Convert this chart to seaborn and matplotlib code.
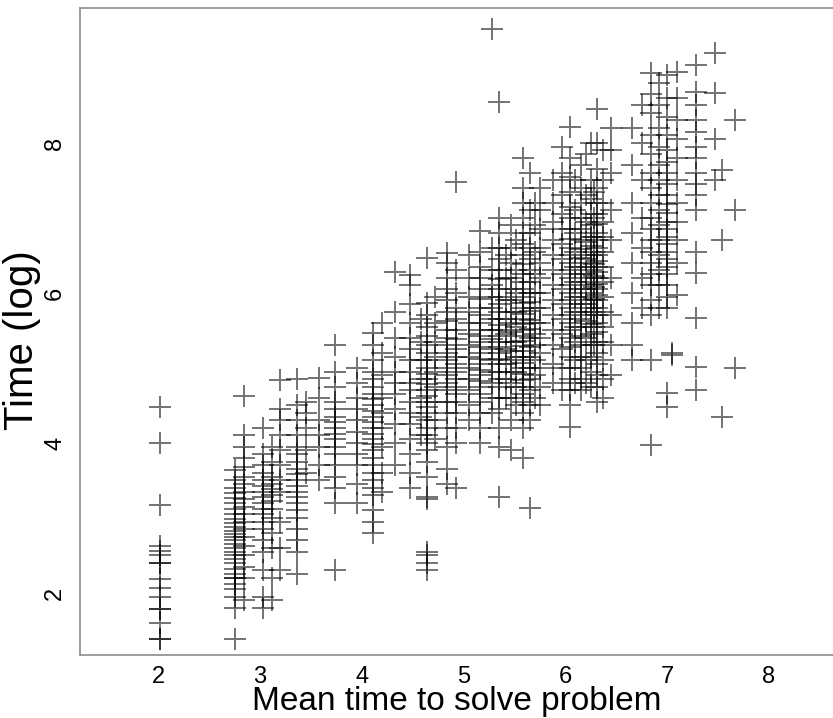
import matplotlib
matplotlib.use("Agg")
import matplotlib.pyplot as plt
import seaborn as sns
import pandas as pd

# ---- data: mean time per problem (x) and individual log times (y) ----
easy_means = [2.02, 2.76, 2.84, 3.03, 3.12, 3.20, 3.37, 3.45, 3.58, 3.74, 3.95]
easy_times = [
    [4.48, 4.00, 3.17, 2.63, 2.56, 2.51, 2.40, 2.40, 2.19, 2.07, 1.95, 1.79, 1.79, 1.60, 1.39, 1.39],
    [3.64, 3.50, 3.40, 3.33, 3.27, 3.20, 3.12, 3.05, 2.98, 2.93, 2.88, 2.83, 2.78, 2.74, 2.70, 2.65,
     2.60, 2.55, 2.50, 2.45, 2.40, 2.32, 2.25, 2.20, 2.20, 2.12, 2.05, 1.95, 1.80, 1.38],
    [4.62, 4.10, 3.95, 3.80, 3.68, 3.55, 3.45, 3.35, 3.25, 3.15, 3.05, 2.95, 2.85, 2.75, 2.62, 2.50,
     2.35, 2.20, 1.90],
    [4.20, 3.85, 3.70, 3.60, 3.50, 3.42, 3.35, 3.28, 3.20, 3.12, 3.05, 2.95, 2.85, 2.70, 2.55, 2.30,
     1.95, 1.80],
    [3.95, 3.75, 3.55, 3.45, 3.38, 3.30, 3.22, 3.12, 3.00, 2.80, 2.60, 2.20, 1.90],
    [4.84, 4.45, 4.30, 4.10, 3.90, 3.70, 3.50, 3.35, 2.95, 2.60, 2.30],
    [4.85, 4.50, 4.30, 4.10, 3.95, 3.85, 3.75, 3.65, 3.58, 3.50, 3.42, 3.35, 3.28, 3.20, 3.10, 3.00,
     2.85, 2.70, 2.55, 2.25],
    [4.55, 4.40, 4.20, 3.90, 3.60],
    [4.87, 4.60, 4.31, 4.10, 3.95, 3.70, 3.50],
    [5.30, 4.95, 4.75, 4.55, 4.45, 4.35, 4.28, 4.20, 4.12, 4.05, 3.95, 3.85, 3.70, 3.55, 3.40, 3.20, 2.30],
    [5.00, 4.80, 4.60, 4.45, 4.30, 4.15, 4.00, 3.85, 3.70, 3.45, 3.20],
]

medium_means = [4.11, 4.20, 4.33, 4.48, 4.58, 4.64, 4.72, 4.84, 4.93, 5.05, 5.16, 5.28, 5.35,
                5.42, 5.47, 5.52]
medium_times = [
    [5.47, 5.30, 5.10, 4.95, 4.85, 4.75, 4.65, 4.58, 4.50, 4.42, 4.35, 4.28, 4.20, 4.12, 4.05, 3.98,
     3.90, 3.80, 3.70, 3.60, 3.50, 3.40, 3.30, 3.10, 2.95, 2.80],
    [5.60, 5.20, 4.90, 4.60, 4.40, 4.20, 3.95, 3.60, 3.35],
    [6.28, 5.75, 5.40, 5.15, 4.95, 4.80, 4.65, 4.45, 4.25, 4.00, 3.70],
    [6.24, 6.10, 5.85, 5.60, 5.40, 5.25, 5.10, 4.95, 4.80, 4.70, 4.55, 4.40, 4.25, 4.05, 3.85, 3.60, 3.40],
    [5.65, 5.35, 5.10, 4.85, 4.60, 4.35, 4.10],
    [6.47, 5.87, 5.70, 5.55, 5.42, 5.30, 5.20, 5.10, 5.00, 4.92, 4.85, 4.78, 4.70, 4.62, 4.55, 4.48,
     4.40, 4.30, 4.20, 4.10, 4.00, 3.90, 3.75, 3.55, 3.28, 3.25, 2.55, 2.50, 2.40, 2.30],
    [5.95, 5.60, 5.35, 5.15, 4.95, 4.75, 4.55, 4.30, 4.05],
    [6.53, 6.40, 6.20, 6.05, 5.90, 5.75, 5.62, 5.50, 5.40, 5.30, 5.20, 5.10, 5.00, 4.90, 4.80, 4.70,
     4.55, 4.40, 4.20, 3.95, 3.65, 3.45],
    [7.48, 6.30, 6.00, 5.80, 5.65, 5.50, 5.38, 5.25, 5.15, 5.05, 4.95, 4.85, 4.75, 4.65, 4.55, 4.40,
     4.20, 4.00, 3.40],
    [6.50, 6.20, 5.95, 5.75, 5.60, 5.45, 5.30, 5.15, 5.00, 4.85, 4.70, 4.50, 4.30],
    [6.83, 6.55, 6.35, 6.20, 6.05, 5.92, 5.80, 5.70, 5.60, 5.50, 5.42, 5.35, 5.28, 5.20, 5.12, 5.05,
     4.97, 4.90, 4.82, 4.75, 4.65, 4.55, 4.40, 4.20, 4.00],
    [9.52, 6.60, 6.30, 6.10, 5.95, 5.80, 5.65, 5.50, 5.38, 5.25, 5.10, 4.95, 4.80, 4.60, 4.40],
    [8.55, 7.00, 6.80, 6.60, 6.45, 6.30, 6.18, 6.05, 5.95, 5.85, 5.75, 5.65, 5.57, 5.50, 5.42, 5.35,
     5.28, 5.20, 5.12, 5.05, 4.95, 4.85, 4.75, 4.60, 4.45, 4.20, 3.95, 3.28],
    [6.50, 6.20, 5.90, 5.65, 5.45, 5.25, 5.05, 4.85, 4.60],
    [6.90, 6.60, 6.40, 6.20, 6.05, 5.90, 5.75, 5.60, 5.48, 5.35, 5.22, 5.10, 4.95, 4.80, 4.60, 4.30, 3.90],
    [6.70, 6.30, 6.00, 5.75, 5.55, 5.35, 5.15, 4.95, 4.75, 4.50],
]

hard_means = [5.59, 5.65, 5.70, 5.75, 5.88, 5.97, 6.05, 6.10, 6.15, 6.20, 6.25, 6.28, 6.31, 6.37,
              6.45, 6.66, 6.75, 6.84, 6.92, 7.00, 7.05, 7.10, 7.28, 7.47, 7.54, 7.67]
hard_times = [
    [7.80, 7.40, 7.20, 7.00, 6.80, 6.65, 6.50, 6.38, 6.25, 6.15, 6.05, 5.95, 5.87, 5.80, 5.72, 5.65,
     5.58, 5.50, 5.43, 5.36, 5.29, 5.22, 5.15, 5.07, 5.00, 4.92, 4.84, 4.75, 4.65, 4.55, 4.40, 4.20, 3.80],
    [7.60, 7.10, 6.80, 6.60, 6.45, 6.30, 6.15, 6.00, 5.88, 5.76, 5.64, 5.52, 5.40, 5.28, 5.15, 5.00,
     4.85, 4.70, 4.50, 4.30, 3.13],
    [7.20, 6.90, 6.55, 6.25, 6.00, 5.80, 5.60, 5.45, 5.30, 5.10, 4.90, 4.60],
    [7.40, 7.10, 6.85, 6.60, 6.40, 6.20, 6.00, 5.80, 5.60, 5.40, 5.20, 5.00, 4.75, 4.50],
    [7.50, 7.20, 6.95, 6.70, 6.50, 6.30, 6.10, 5.90, 5.70, 5.50, 5.30, 5.05, 4.80],
    [7.95, 7.60, 7.30, 7.05, 6.85, 6.65, 6.45, 6.25, 6.05, 5.85, 5.65, 5.45, 5.25, 5.00, 4.70],
    [8.21, 7.80, 7.55, 7.35, 7.15, 7.00, 6.85, 6.72, 6.60, 6.50, 6.40, 6.30, 6.20, 6.10, 6.00, 5.90,
     5.80, 5.70, 5.60, 5.50, 5.40, 5.28, 5.15, 5.00, 4.85, 4.70, 4.50, 4.21],
    [7.50, 7.10, 6.80, 6.55, 6.35, 6.15, 5.95, 5.75, 5.55, 5.35, 5.10, 4.80],
    [7.70, 7.40, 7.20, 7.00, 6.85, 6.70, 6.58, 6.46, 6.35, 6.25, 6.15, 6.05, 5.95, 5.85, 5.75, 5.65,
     5.55, 5.42, 5.30, 5.15, 5.00, 4.85, 4.70],
    [7.85, 7.30, 6.95, 6.68, 6.45, 6.25, 6.05, 5.85, 5.62, 5.40, 5.10, 4.80],
    [8.00, 7.50, 7.25, 7.05, 6.90, 6.75, 6.62, 6.50, 6.40, 6.30, 6.20, 6.10, 6.00, 5.90, 5.80, 5.70,
     5.58, 5.45, 5.30, 5.15, 4.95, 4.75],
    [7.35, 7.00, 6.75, 6.55, 6.38, 6.22, 6.08, 5.92, 5.75, 5.55, 5.30],
    [8.45, 8.00, 7.65, 7.40, 7.20, 7.05, 6.92, 6.80, 6.70, 6.60, 6.50, 6.42, 6.35, 6.28, 6.20, 6.12,
     6.05, 5.97, 5.90, 5.80, 5.70, 5.60, 5.48, 5.35, 5.20, 5.05, 4.90, 4.75, 4.55],
    [7.90, 7.50, 7.20, 6.95, 6.75, 6.55, 6.35, 6.15, 5.95, 5.75, 5.55, 5.35, 5.10, 4.85, 4.60],
    [8.20, 7.90, 7.60, 7.10, 6.70, 6.20, 5.70, 5.30, 4.90],
    [8.20, 7.70, 7.20, 6.80, 6.40, 6.00, 5.60, 5.30, 5.10],
    [8.50, 8.00, 7.50, 7.00, 6.60, 6.20, 5.80],
    [8.93, 8.65, 8.40, 8.10, 7.85, 7.60, 7.40, 7.20, 7.00, 6.85, 6.70, 6.55, 6.40, 6.25, 6.10, 5.90,
     5.70, 5.11, 3.97],
    [8.80, 8.50, 8.20, 7.95, 7.70, 7.50, 7.30, 7.10, 6.90, 6.70, 6.50, 6.30, 6.10, 5.80],
    [8.90, 8.60, 8.35, 8.10, 7.90, 7.75, 7.60, 7.45, 7.30, 7.18, 7.06, 6.95, 6.85, 6.75, 6.65, 6.55,
     6.45, 6.35, 6.25, 6.10, 5.95, 5.80, 4.67, 4.48],
    [5.20, 5.17],
    [8.95, 8.60, 8.30, 8.05, 7.80, 7.50, 7.20, 6.95, 6.70, 6.40, 5.97],
    [9.04, 8.68, 8.50, 8.30, 8.15, 7.95, 7.80, 7.60, 7.45, 7.30, 7.10, 6.55, 6.27, 5.67, 5.01, 4.71],
    [9.20, 8.67, 8.05, 7.50],
    [7.64, 6.71, 4.35],
    [8.31, 7.11, 5.00],
]

x_ticks = [2, 3, 4, 5, 6, 7, 8]
y_ticks = [2, 4, 6, 8]
x_label = "Mean time to solve problem"
y_label = "Time (log)"

rows = []
for means, times in ((easy_means, easy_times), (medium_means, medium_times), (hard_means, hard_times)):
    for m, ts in zip(means, times):
        for t in ts:
            rows.append((m, t))
df = pd.DataFrame(rows, columns=["mean_time", "log_time"])

sns.set_style("white")
plt.rcParams["font.family"] = ["Liberation Sans", "DejaVu Sans"]
plt.rcParams["text.color"] = "black"
plt.rcParams["axes.labelcolor"] = "black"

W, H = 833, 718
fig = plt.figure(figsize=(W / 100, H / 100), dpi=100)
left, bottom, top = 80, 655, 8
ax = fig.add_axes([left / W, (H - bottom) / H, 1 - left / W, (bottom - top) / H])

sns.scatterplot(data=df, x="mean_time", y="log_time", marker="+", s=260,
                color="black", alpha=0.55, linewidth=1.4, ax=ax, legend=False)

ax.set_xlim(1.234, 8.63)
ax.set_ylim(1.173, 9.80)
ax.set_xticks(x_ticks)
ax.set_yticks(y_ticks)
ax.set_xticklabels([str(v) for v in x_ticks], fontsize=17)
ax.set_yticklabels([str(v) for v in y_ticks], fontsize=17, rotation=90, va="center")

spine_color = "#8c8c8c"
for name in ["left", "bottom", "top"]:
    ax.spines[name].set_color(spine_color)
    ax.spines[name].set_linewidth(1.2)
ax.spines["right"].set_visible(False)
ax.tick_params(axis="both", direction="out", length=5, width=1, color=spine_color,
               labelcolor="black", pad=3)
ax.tick_params(axis="y", pad=5)

ax.set_xlabel(x_label, fontsize=24, color="black")
ax.set_ylabel(y_label, fontsize=29, color="black")
ax.xaxis.set_label_coords(0.5, -0.048)
ax.yaxis.set_label_coords(-0.052, 0.487)

fig.savefig("out.png", dpi=100)
